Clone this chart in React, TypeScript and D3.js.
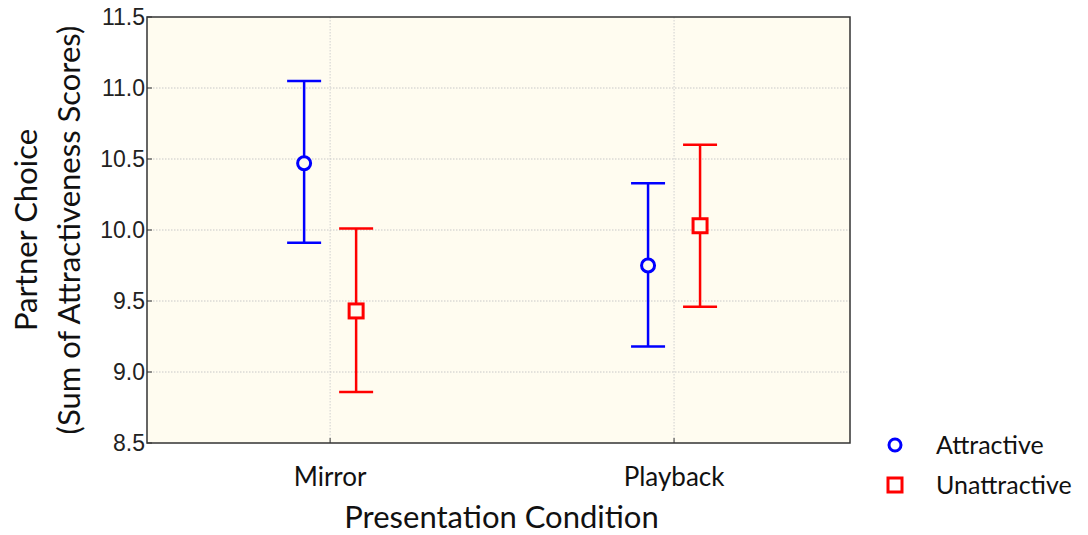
import * as d3 from 'd3'

const conditions = ['Mirror', 'Playback']
const groups = ['Attractive', 'Unattractive']
const colors = ['#0000ff', '#ff0000']
// means and 95% CI bounds per group, by condition
const means = [[10.47, 9.75], [9.43, 10.03]]
const lower = [[9.91, 9.18], [8.86, 9.46]]
const upper = [[11.05, 10.33], [10.01, 10.6]]
const yTicks = [8.5, 9.0, 9.5, 10.0, 10.5, 11.0, 11.5]

const W = 1088, H = 535
const L = 147, R = 850, T = 17, B = 443
const GILL = 'Lato, "Open Sans", sans-serif'

export default function App() {
  const x = d3.scalePoint<string>().domain(conditions).range([L, R]).padding(0.522).align(0.51)
  const y = d3.scaleLinear().domain([8.5, 11.5]).range([B, T])
  const off = d3.scalePoint<string>().domain(groups).range([-26, 26])

  return (
    <svg width={W} height={H} style={{ position: 'absolute', left: 0, top: 0 }}>
      <rect x={L} y={T} width={R - L} height={B - T} fill="#fffcf0" />
      {yTicks.slice(1, -1).map(t => (
        <line key={t} x1={L} x2={R} y1={y(t)} y2={y(t)} stroke="#c8c8c8" strokeDasharray="1.5,1.5" />
      ))}
      {conditions.map(c => (
        <line key={c} x1={x(c)} x2={x(c)} y1={T} y2={B} stroke="#d0d0d0" strokeDasharray="1.5,1.5" />
      ))}
      <rect x={L} y={T} width={R - L} height={B - T} fill="none" stroke="#333" strokeWidth={1.5} />
      {yTicks.map(t => (
        <g key={t}>
          <line x1={L} x2={L + 5} y1={y(t)} y2={y(t)} stroke="#333" />
          <text x={L - 2} y={y(t)} dy="0.35em" textAnchor="end" fontSize={23}
            fontFamily='"Liberation Sans", Arial, sans-serif' fill="#222">{t.toFixed(1)}</text>
        </g>
      ))}
      {conditions.map(c => (
        <g key={c}>
          <line x1={x(c)} x2={x(c)} y1={B} y2={B - 5} stroke="#333" />
          <text x={x(c)} y={486} textAnchor="middle" fontSize={26} fontFamily={GILL} fill="#111">{c}</text>
        </g>
      ))}
      <text x={(L + R) / 2 + 3} y={528} textAnchor="middle" fontSize={31} fontFamily={GILL} fill="#111">Presentation Condition</text>
      <g transform="translate(0,230) rotate(-90)" fontFamily={GILL} fontSize={31} fill="#111" textAnchor="middle">
        <text x={0} y={37}>Partner Choice</text>
        <text x={0} y={80}>(Sum of Attractiveness Scores)</text>
      </g>
      {groups.map((g, gi) => (
        <g key={g} stroke={colors[gi]} strokeWidth={2.5} fill="none">
          {conditions.map((c, ci) => {
            const cx = (x(c) as number) + (off(g) as number)
            return (
              <g key={c}>
                <line x1={cx} x2={cx} y1={y(upper[gi][ci])} y2={y(lower[gi][ci])} />
                <line x1={cx - 17} x2={cx + 17} y1={y(upper[gi][ci])} y2={y(upper[gi][ci])} />
                <line x1={cx - 17} x2={cx + 17} y1={y(lower[gi][ci])} y2={y(lower[gi][ci])} />
                {gi === 0
                  ? <circle cx={cx} cy={y(means[gi][ci])} r={6.5} fill="#fffcf0" strokeWidth={3} />
                  : <rect x={cx - 7} y={y(means[gi][ci]) - 7} width={14} height={14} fill="#fffcf0" strokeWidth={3} />}
              </g>
            )
          })}
        </g>
      ))}
      {groups.map((g, gi) => (
        <g key={g} transform={`translate(895,${445 + gi * 40})`}>
          {gi === 0
            ? <circle r={6} fill="none" stroke={colors[gi]} strokeWidth={3} />
            : <rect x={-7} y={-7} width={14} height={14} fill="none" stroke={colors[gi]} strokeWidth={3} />}
          <text x={41} dy="0.35em" fontSize={25} fontFamily={GILL} fill="#111">{g}</text>
        </g>
      ))}
    </svg>
  )
}
